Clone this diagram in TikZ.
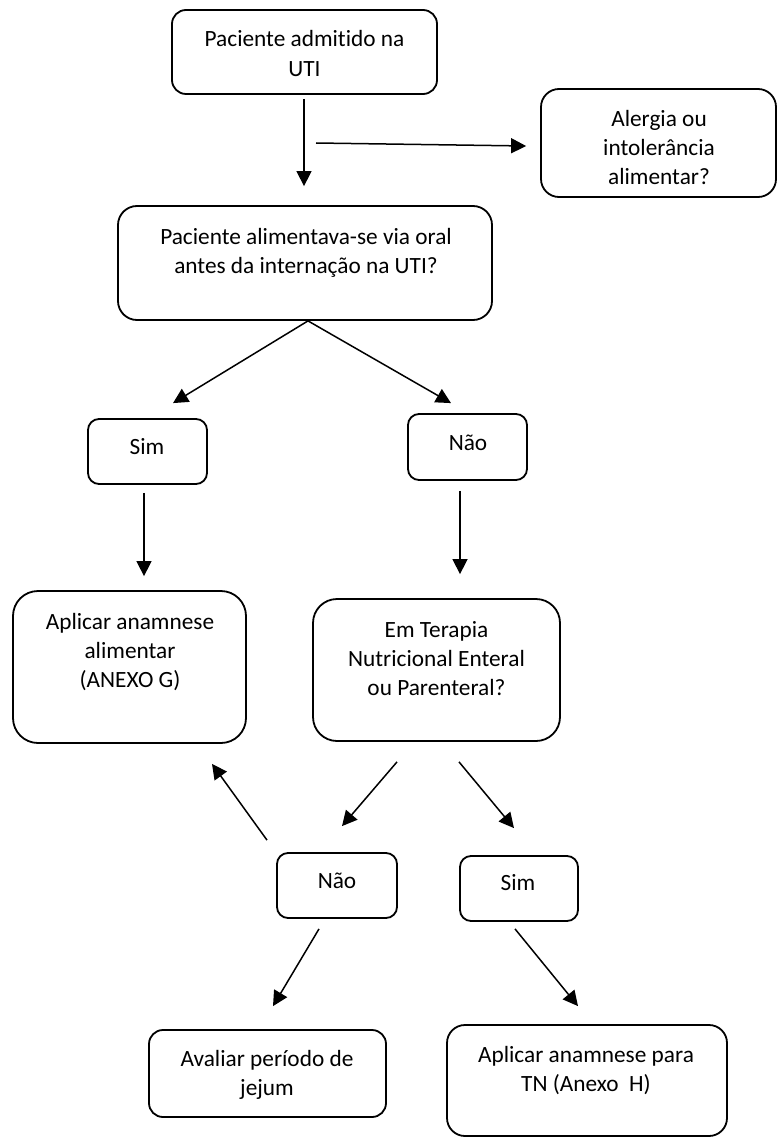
\documentclass[tikz,border=0pt]{standalone}
\usepackage{fontspec}
\setmainfont{Carlito}[Ligatures=NoCommon]
\usetikzlibrary{arrows.meta,calc}
\begin{document}
\begin{tikzpicture}[x=1pt,y=-1pt,
  box/.style={draw, line width=1.8pt, inner sep=0pt},
  txt/.style={align=center, inner sep=0pt, font=\fontsize{23.3}{29}\selectfont},
  arr/.style={line width=1.5pt, -{Triangle[length=15pt,width=15pt]}}]
\useasboundingbox (0,0) rectangle (778,1147);

% boxes
\node[box, minimum width=265pt, minimum height=84pt,  rounded corners=14pt] (b1)  at (304.5,52) {};
\node[box, minimum width=235pt, minimum height=108pt, rounded corners=18pt] (b2)  at (658.5,143) {};
\node[box, minimum width=374pt, minimum height=114pt, rounded corners=19pt] (b3)  at (305,263) {};
\node[box, minimum width=119pt, minimum height=65pt,  rounded corners=11pt] (b4)  at (147.5,451.5) {};
\node[box, minimum width=119pt, minimum height=66pt,  rounded corners=11pt] (b5)  at (467.5,447) {};
\node[box, minimum width=233pt, minimum height=152pt, rounded corners=25pt] (b6)  at (129.5,667) {};
\node[box, minimum width=247pt, minimum height=142pt, rounded corners=24pt] (b7)  at (436.5,670) {};
\node[box, minimum width=120pt, minimum height=65pt,  rounded corners=11pt] (b8)  at (337,885.5) {};
\node[box, minimum width=118pt, minimum height=65pt,  rounded corners=11pt] (b9)  at (519,888.5) {};
\node[box, minimum width=237pt, minimum height=87pt,  rounded corners=14pt] (b10) at (267.5,1073.5) {};
\node[box, minimum width=280pt, minimum height=111pt, rounded corners=18pt] (b11) at (587,1080.5) {};

% box texts
\node[txt] (t1)  at (304.5,53.5) {Paciente admitido na\\UTI};
\node[txt] (t2)  at (659,147) {Alergia ou\\intolerância\\alimentar?};
\node[txt] (t3)  at (306,253) {Paciente alimentava-se via oral\\antes da internação na UTI?};
\node[txt] (t4)  at (147,447) {Sim};
\node[txt] (t5)  at (468,443) {Não};
\node[txt] (t6)  at (130,652) {Aplicar anamnese\\alimentar\\(ANEXO G)};
\node[txt] (t7)  at (436.5,659) {Em Terapia\\Nutricional Enteral\\ou Parenteral?};
\node[txt] (t8)  at (337,881) {Não};
\node[txt] (t9)  at (518,883) {Sim};
\node[txt] (t10) at (267,1075) {Avaliar período de\\jejum};
\node[txt] (t11) at (586,1071) {Aplicar anamnese para\\TN (Anexo\ \ H)};

% connectors
\coordinate (c1) at (316,143);
\draw[arr] ($(b1.south)+(-0.5,4)$) -- ($(b3.north)+(-1,-19)$);
\draw[arr] (c1) -- ($(b2.west)+(-14,3)$);
\draw[arr] ($(b3.south)+(3,0)$) -- ($(b4.north)+(25.5,-15)$);
\draw[arr] ($(b3.south)+(3,0)$) -- ($(b5.north)+(-16.5,-10)$);
\draw[arr] ($(b4.south)+(-3.5,8)$) -- ($(b6.north)+(14.5,-14)$);
\draw[arr] ($(b5.south)+(-7.5,10)$) -- ($(b7.north)+(23.5,-24)$);
\draw[arr] ($(b7.south)+(-39.5,20)$) -- ($(b8.north)+(5,-26)$);
\draw[arr] ($(b7.south)+(22.5,20)$) -- ($(b9.north)+(-5,-27)$);
\draw[arr] ($(b8.north)+(-70,-12)$) -- ($(b6.south)+(82.5,20)$);
\draw[arr] ($(b8.south)+(-18,10)$) -- ($(b10.north)+(5.5,-23)$);
\draw[arr] ($(b9.south)+(-4,7)$) -- ($(b11.north)+(-9,-18)$);
\end{tikzpicture}
\end{document}
